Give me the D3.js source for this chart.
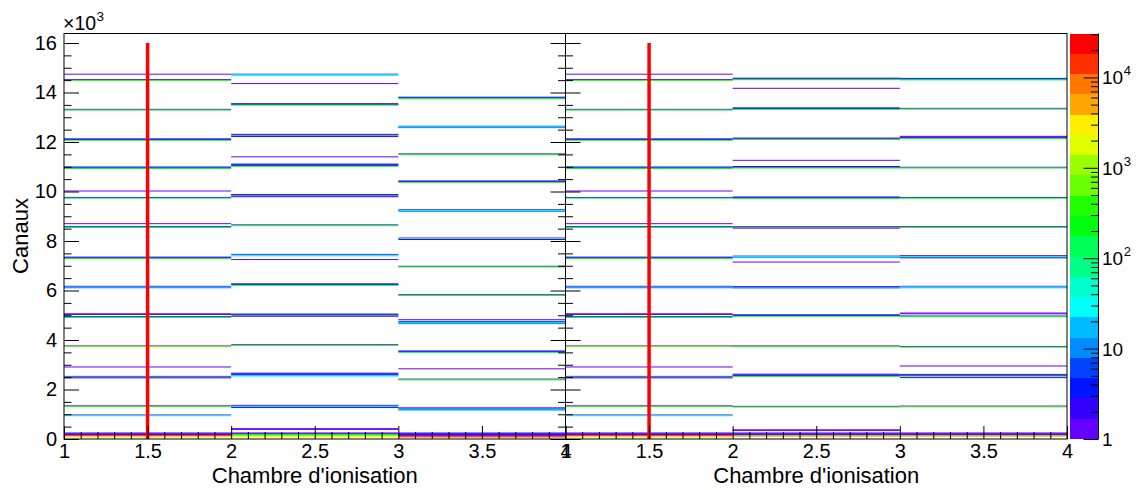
<!DOCTYPE html>
<html><head><meta charset="utf-8">
<script src="https://cdn.jsdelivr.net/npm/d3@7/dist/d3.min.js"></script>
<style>
body{margin:0;background:#fff;}
svg{display:block;}
text{font-family:"Liberation Sans",Arial,Helvetica,sans-serif;fill:#000;}
</style>
</head><body><svg id="c" width="1140" height="490"></svg>
<script>
// ---------------- DATA ----------------
const chambers = [1, 2, 3];               // x bins (lower edges), width 1
const binWidth = 40;                      // channels per y bin
const yMaxChannel = 16384;
const zMin = 1, zMax = 30600;
const nContours = 20;

// [channel (bin lower edge), counts] - chamber 1 (identical in both runs)
const chamber1 = [
  [14720,1],[14500,2],[14470,300],[13300,1],[13270,250],
  [12110,1],[12080,3],[12050,200],[10970,3],[10940,5],[10910,200],
  [10000,1],[9740,2],[9710,150],[8680,1],[8560,3],[8530,200],
  [7330,1],[7300,3],[7270,250],[6150,1],[6120,20],[6090,12],
  [5040,1],[5010,1],[4920,3],[4890,200],[3740,1],[3710,600],
  [2890,1],[2510,1],[2480,150],[2450,2],[1320,1],[1290,300],
  [950,1],[920,60],
  [224,1],[192,2],[160,2],[128,25000],[96,8000],[64,3000]
];
const leftChamber2 = [
  [14720,1],[14690,25],[14660,30],[14340,1],
  [13530,1],[13500,3],[13470,200],
  [12290,1],[12260,2],[12230,150],[12200,2],[11380,1],
  [11090,1],[11060,3],[11030,4],[11000,200],
  [9860,1],[9830,2],[9800,150],[9770,2],[8630,2],[8600,250],
  [7440,1],[7410,15],[7380,30],[7230,1],
  [6250,2],[6220,3],[6190,200],
  [5030,1],[5000,2],[4970,150],[4940,2],[3790,1],[3760,400],
  [2640,1],[2610,3],[2580,2],[2550,20],[2520,30],
  [1340,1],[1310,8],[1280,150],[1250,2],
  [400,1],[368,1],[224,1],[192,2],[160,200],[128,400],[96,1500],[64,2500]
];
const leftChamber3 = [
  [13790,3],[13760,4],[13730,200],[12620,10],[12590,15],[12560,12],
  [11500,1],[11470,200],[10410,1],[10380,2],[10350,200],
  [9240,4],[9210,25],[9180,10],[8100,1],[8070,100],[8040,2],
  [6960,1],[6930,200],[5810,1],[5780,200],
  [4800,1],[4730,5],[4700,12],[4670,15],[4640,8],
  [3540,1],[3510,3],[3480,150],[2816,1],[2400,1],[2370,200],
  [1240,1],[1210,10],[1180,15],[1150,8],
  [224,1],[192,2],[160,3],[128,2],[96,20000],[64,15000]
];
const rightChamber2 = [
  [14560,1],[14530,3],[14500,200],[14150,1],
  [13360,2],[13330,3],[13300,200],[12140,1],[12110,1],[12080,250],
  [11240,1],[10990,2],[10960,3],[10930,200],
  [9760,1],[9730,3],[9700,200],[8560,1],[8530,200],[8500,1],
  [7370,2],[7340,30],[7310,15],[7130,1],
  [6140,1],[6110,10],[6080,12],[5000,2],[4970,3],[4940,200],
  [3740,1],[3710,300],[2600,1],[2570,2],[2540,3],[2510,200],
  [1300,1],[1270,300],
  [352,1],[320,1],[224,1],[192,3],[160,4],[128,8000],[96,6000]
];
const rightChamber3 = [
  [14550,4],[14520,5],[14490,200],[13340,1],[13310,200],
  [12210,1],[12180,2],[12150,2],[12120,200],[10960,1],[10930,200],
  [9740,3],[9710,200],[8560,1],[8530,200],
  [7390,1],[7360,150],[7330,30],[7300,2],
  [6150,1],[6120,30],[6090,20],[5070,1],[5040,1],[4950,2],[4920,200],
  [3720,1],[3690,300],[2930,1],
  [2590,1],[2550,2],[2520,200],[2460,2],[1310,1],[1280,300],
  [224,1],[192,2],[160,3],[128,8000],[96,6000]
];

const xTickValues = [1,1.5,2,2.5,3,3.5,4];
const xTickLabels = ["1","1.5","2","2.5","3","3.5","4"];
const yTickValues = [0,2000,4000,6000,8000,10000,12000,14000,16000];
const yTickLabels = ["0","2","4","6","8","10","12","14","16"];
const zTickValues = [1,10,100,1000,10000];
const zTickLabels = [["1",""],["10",""],["10","2"],["10","3"],["10","4"]];
const xTitle = "Chambre d'ionisation";
const yTitle = "Canaux";
const yExponent = ["\u00d710","3"];
const cutX = 1.5, cutY0 = 0, cutY1 = 16000;

// ---------------- LAYOUT ----------------
const svg = d3.select("#c");
const frameTop = 33.5, frameBottom = 439;
const panels = [
  {x0:64, x1:565.5, cols:[chamber1,leftChamber2,leftChamber3], labels:true, rightTicks:true},
  {x0:565.5, x1:1067, cols:[chamber1,rightChamber2,rightChamber3], labels:false, rightTicks:false}
];
const y = d3.scaleLinear().domain([0,yMaxChannel]).range([frameBottom,frameTop]);
const logMax = Math.log10(zMax/zMin);

function paletteColor(k){
  const idx = Math.floor((k+0.99)*50/nContours);
  const hue = 280 - (idx+1)*(280/50);
  return d3.hsl(hue,1,0.5).formatHex();
}
function colorOf(v){
  let k = Math.floor(Math.log10(v/zMin)/logMax*nContours);
  k = Math.max(0, Math.min(nContours-1, k));
  return paletteColor(k);
}

const minorY = d3.range(0,16001,500).filter(v=>v%2000!==0);
const minorX = d3.range(10,41).map(v=>v/10).filter(v=>Math.abs(v*2-Math.round(v*2))>1e-6);

panels.forEach(p=>{
  const x = d3.scaleLinear().domain([1,4]).range([p.x0,p.x1]);
  const g = svg.append("g");
  p.cols.forEach((cells,i)=>{
    const c = chambers[i];
    g.append("g").selectAll("rect").data(cells).join("rect")
      .attr("x", x(c)).attr("width", x(c+1)-x(c))
      .attr("y", d=>y(d[0]+binWidth)).attr("height", d=>y(d[0])-y(d[0]+binWidth))
      .attr("fill", d=>colorOf(d[1]));
  });
  g.append("line").attr("x1",x(cutX)).attr("x2",x(cutX))
    .attr("y1",y(cutY0)).attr("y2",y(cutY1))
    .attr("stroke","#ff0000").attr("stroke-width",3.5);
  const yAx = g.append("g").attr("transform",`translate(${p.x0},0)`)
    .call(d3.axisLeft(y).tickValues(yTickValues).tickSize(-15).tickPadding(7)
      .tickFormat((d,i)=>p.labels?yTickLabels[i]:""));
  yAx.select(".domain").remove();
  yAx.selectAll("text").attr("font-size",20).attr("font-family",null);
  const yAxm = g.append("g").attr("transform",`translate(${p.x0},0)`)
    .call(d3.axisLeft(y).tickValues(minorY).tickSize(-7.5).tickFormat(""));
  yAxm.select(".domain").remove();
  if(p.rightTicks){
    [[yTickValues,15],[minorY,7.5]].forEach(([vals,len])=>{
      const a = g.append("g").attr("transform",`translate(${p.x1},0)`)
        .call(d3.axisRight(y).tickValues(vals).tickSize(-len).tickFormat(""));
      a.select(".domain").remove();
    });
  }
  const xAx = g.append("g").attr("transform",`translate(0,${frameBottom})`)
    .call(d3.axisBottom(x).tickValues(xTickValues).tickSize(-13).tickPadding(5)
      .tickFormat((d,i)=>xTickLabels[i]));
  xAx.select(".domain").remove();
  xAx.selectAll("text").attr("font-size",20).attr("font-family",null);
  const xAxm = g.append("g").attr("transform",`translate(0,${frameBottom})`)
    .call(d3.axisBottom(x).tickValues(minorX).tickSize(-7).tickFormat(""));
  xAxm.select(".domain").remove();
  g.append("rect").attr("x",p.x0).attr("y",frameTop).attr("width",p.x1-p.x0).attr("height",frameBottom-frameTop)
    .attr("fill","none").attr("stroke","#000").attr("stroke-width",1);
  g.append("text").attr("x",(p.x0+p.x1)/2).attr("y",483).attr("text-anchor","middle")
    .attr("font-size",22).text(xTitle);
});

svg.append("text").attr("transform","translate(28,236) rotate(-90)")
  .attr("text-anchor","middle").attr("font-size",22).text(yTitle);
const expBase = svg.append("text").attr("x",63).attr("y",30).attr("font-size",19.5).text(yExponent[0]);
const expW = expBase.node().getComputedTextLength();
svg.append("text").attr("x",63+expW+0.5).attr("y",21).attr("font-size",13.5).text(yExponent[1]);

// ---------------- COLOR BAR ----------------
const cbX0 = 1070, cbX1 = 1098.5;
const z = d3.scaleLog().domain([zMin,zMax]).range([frameBottom,frameTop]);
const bands = d3.range(nContours);
svg.append("g").selectAll("rect").data(bands).join("rect")
  .attr("x",cbX0).attr("width",cbX1-cbX0)
  .attr("y",k=>z(zMin*Math.pow(10,(k+1)*logMax/nContours)))
  .attr("height",k=>z(zMin*Math.pow(10,k*logMax/nContours))-z(zMin*Math.pow(10,(k+1)*logMax/nContours)))
  .attr("fill",k=>paletteColor(k)).attr("shape-rendering","crispEdges");
const zMinor = [];
[1,10,100,1000,10000].forEach(dec=>{for(let m=2;m<=9;m++){const v=dec*m; if(v<=zMax) zMinor.push(v);}});
const zAx = svg.append("g").attr("transform",`translate(${cbX1},0)`)
  .call(d3.axisRight(z).tickValues(zTickValues).tickSize(-15).tickFormat(""));
zAx.select(".domain").attr("d",`M0,${frameTop}V${frameBottom}`);
const zAxm = svg.append("g").attr("transform",`translate(${cbX1},0)`)
  .call(d3.axisRight(z).tickValues(zMinor).tickSize(-7.5).tickFormat(""));
zAxm.select(".domain").remove();
zTickValues.forEach((v,i)=>{
  const yy = z(v);
  const [base,sup] = zTickLabels[i];
  const t = svg.append("text").attr("x",1102).attr("y",yy+7).attr("font-size",19).text(base);
  if(sup){
    const w = t.node().getComputedTextLength();
    svg.append("text").attr("x",1102+w+0.5).attr("y",yy-2).attr("font-size",13).text(sup);
  }
});
</script>
</body></html>
